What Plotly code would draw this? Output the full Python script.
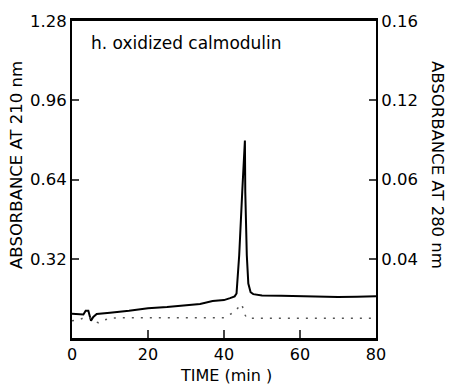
import plotly.graph_objects as go

# 210 nm trace (solid), left axis units
t210 = [0, 2, 3, 3.6, 4.3, 5.0, 5.6, 6.5, 8, 10, 15, 20, 25, 30, 33.7, 37, 40, 41.6, 42.8,
        43.3, 44.0, 44.8, 45.5, 45.6, 46.0, 46.4, 47.0, 47.7, 50, 55, 60, 65, 70, 75, 80]
a210 = [0.098, 0.098, 0.095, 0.11, 0.11, 0.07, 0.085, 0.097, 0.098, 0.102, 0.11, 0.12, 0.125,
        0.132, 0.137, 0.149, 0.153, 0.161, 0.168, 0.18, 0.334, 0.59, 0.797, 0.59, 0.334, 0.22,
        0.185, 0.177, 0.172, 0.171, 0.169, 0.167, 0.166, 0.167, 0.169]

# 280 nm trace (dotted), plotted on the right axis scale
t280 = [0, 2, 3.5, 5, 6, 7, 8, 10, 15, 20, 25, 30, 35, 40, 42.4, 43.5, 44.7, 45.3, 46, 50, 60, 70, 80]
a280 = [0.07, 0.074, 0.085, 0.08, 0.066, 0.062, 0.07, 0.08, 0.082, 0.082, 0.082, 0.082, 0.082,
        0.082, 0.102, 0.12, 0.137, 0.1, 0.08, 0.08, 0.08, 0.08, 0.08]

x_ticks = [0, 20, 40, 60, 80]
left_vals = [0.32, 0.64, 0.96, 1.28]
left_text = ["0.32", "0.64", "0.96", "1.28"]
right_text = ["0.04", "0.06", "0.12", "0.16"]

FONT = "DejaVu Sans, sans-serif"

L, R, T, B = 72, 75, 12, 53
PW, PH = 451 - L - R, 391 - T - B


def px(x):
    return (x - L) / PW


def py(y):
    return 1 - (y - T) / PH


fig = go.Figure()
fig.add_trace(go.Scatter(x=t280, y=a280, mode="lines", yaxis="y2",
                         line=dict(color="#555555", width=1.5, dash="2px,7px"),
                         showlegend=False, hoverinfo="skip"))
fig.add_trace(go.Scatter(x=t210, y=a210, mode="lines",
                         line=dict(color="black", width=2),
                         showlegend=False))

fig.update_layout(
    width=451, height=391,
    margin=dict(l=L, r=R, t=T, b=B),
    paper_bgcolor="white", plot_bgcolor="white",
    font=dict(family=FONT, color="black"),
    xaxis=dict(range=[0, 80], tickvals=x_ticks, ticks="inside", ticklen=8, tickwidth=2,
               showgrid=False, zeroline=False, showline=True, linewidth=2.5, linecolor="black",
               mirror=True, tickfont=dict(size=16)),
    yaxis=dict(range=[0, 1.28], tickvals=left_vals, ticktext=left_text, ticks="inside",
               ticklen=7, tickwidth=2, showgrid=False, zeroline=False, showline=True,
               linewidth=2, linecolor="black", tickfont=dict(size=16.5)),
    yaxis2=dict(range=[0, 1.28], overlaying="y", side="right", tickvals=left_vals,
                ticktext=right_text, ticks="inside", ticklen=7, tickwidth=1.5,
                showgrid=False, zeroline=False, showline=True, linewidth=2,
                linecolor="black", tickfont=dict(size=16.5)),
    annotations=[
        dict(text="h. oxidized calmodulin", x=px(89), y=py(35), xref="paper", yref="paper",
             xanchor="left", yanchor="middle", showarrow=False, font=dict(size=17)),
        dict(text="ABSORBANCE AT 210 nm", x=px(17), y=py(160), xref="paper", yref="paper",
             xanchor="center", yanchor="middle", showarrow=False, textangle=-90,
             font=dict(size=16.5)),
        dict(text="ABSORBANCE AT 280 nm", x=px(437), y=py(160), xref="paper", yref="paper",
             xanchor="center", yanchor="middle", showarrow=False, textangle=90,
             font=dict(size=16.5)),
        dict(text="TIME (min )", x=px(226), y=py(377), xref="paper", yref="paper",
             xanchor="center", yanchor="middle", showarrow=False, font=dict(size=16)),
    ],
)

fig.write_html("out.html")
